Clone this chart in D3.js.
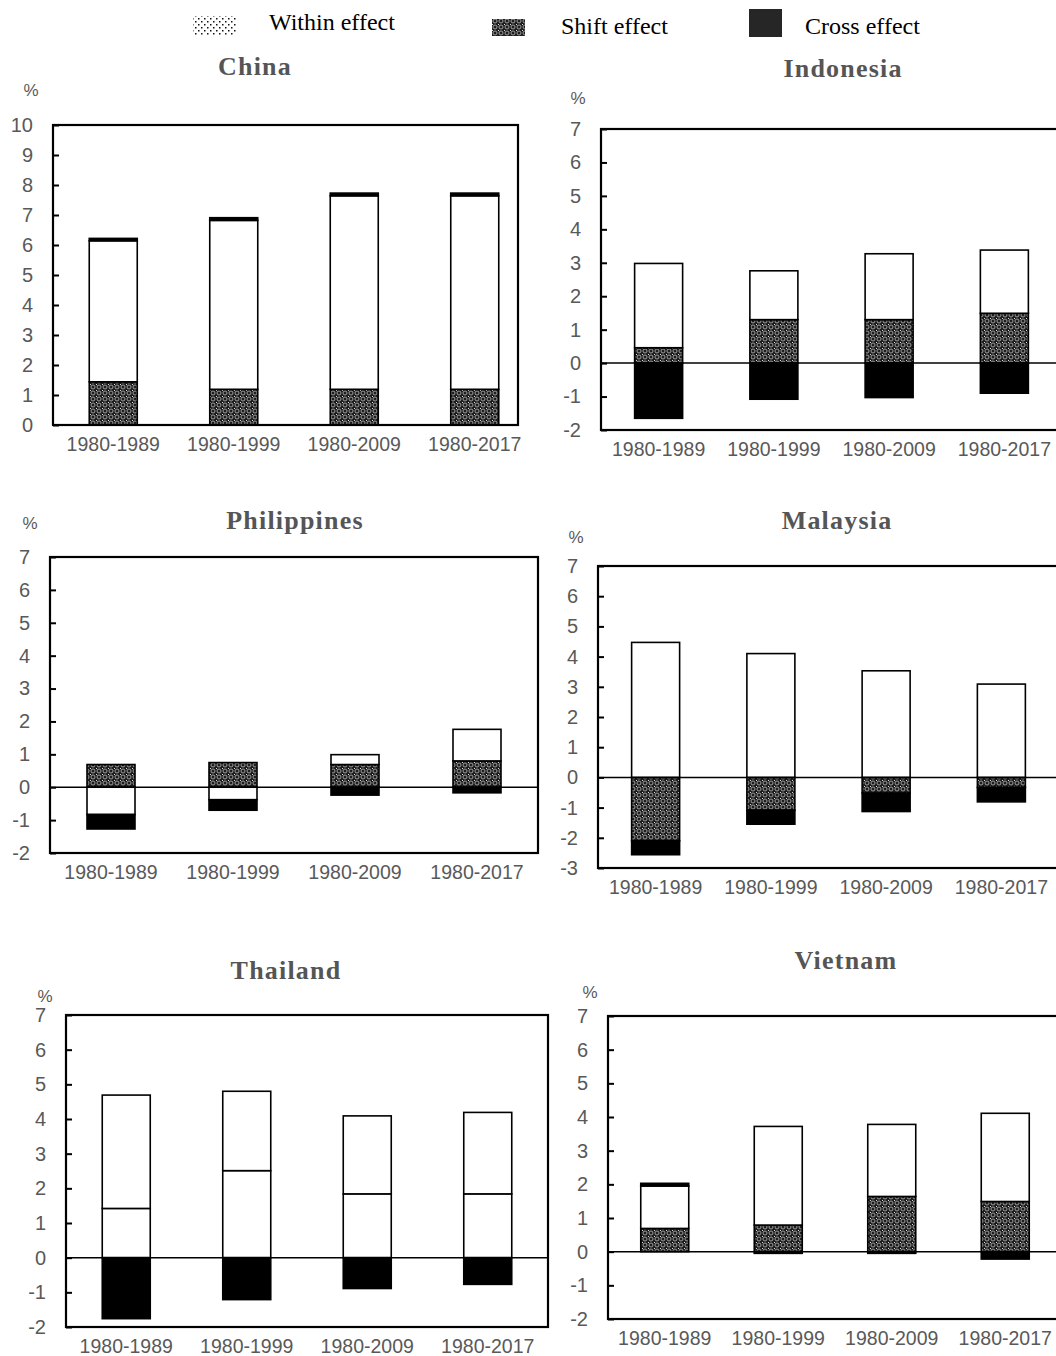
<!DOCTYPE html>
<html>
<head>
<meta charset="utf-8">
<script src="https://cdn.jsdelivr.net/npm/d3@7"></script>
<style>
  body { margin: 0; background: #fff; }
  svg { display: block; }
</style>
</head>
<body>
<svg id="chart" width="1056" height="1356"></svg>
<script>
// periods on the x axis
const periods = ["1980-1989", "1980-1999", "1980-2009", "1980-2017"];
const countries = ["China", "Indonesia", "Philippines", "Malaysia", "Thailand", "Vietnam"];

// effects per country (rows follow `countries`), in %
const shiftEffect = [
  [1.44, 1.19, 1.19, 1.19],
  [0.46, 1.30, 1.30, 1.49],
  [0.69, 0.75, 0.69, 0.80],
  [-2.10, -1.09, -0.52, -0.33],
  [1.42, 2.51, 1.84, 1.84],
  [0.69, 0.79, 1.64, 1.49]
];
const withinEffect = [
  [4.70, 5.63, 6.45, 6.45],
  [2.52, 1.46, 1.97, 1.89],
  [-0.83, -0.38, 0.30, 0.96],
  [4.47, 4.10, 3.53, 3.09],
  [3.27, 2.29, 2.25, 2.35],
  [1.26, 2.93, 2.14, 2.62]
];
const crossEffect = [
  [0.08, 0.09, 0.09, 0.09],
  [-1.65, -1.08, -1.03, -0.90],
  [-0.44, -0.32, -0.24, -0.17],
  [-0.46, -0.46, -0.61, -0.48],
  [-1.76, -1.21, -0.89, -0.77],
  [0.08, -0.05, -0.05, -0.22]
];
// y axis limits per country
const yMin = [0, -2, -2, -3, -2, -2];
const yMax = [10, 7, 7, 7, 7, 7];

const legendLabels = ["Within effect", "Shift effect", "Cross effect"];

// panel layout (pixels)
const panels = [
  { left: 53, right: 518, top: 125, bottom: 425, band: [53, 535], title: [255, 66], pct: [31, 90] },
  { left: 601, right: 1062, top: 129, bottom: 430, band: [601, 1062], title: [843, 68], pct: [578, 98] },
  { left: 50, right: 538, top: 557, bottom: 853, band: [50, 538], title: [295, 520], pct: [30, 523] },
  { left: 598, right: 1062, top: 566, bottom: 868, band: [598, 1059], title: [837, 520], pct: [576, 537] },
  { left: 66, right: 548, top: 1015, bottom: 1327, band: [66, 548], title: [286, 970], pct: [45, 996], plainShift: true },
  { left: 608, right: 1062, top: 1016, bottom: 1319, band: [608, 1062], title: [846, 960], pct: [590, 992] }
];

const svg = d3.select("#chart");
const defs = svg.append("defs");

// shift pattern: dark with light rings
const shiftPat = defs.append("pattern")
  .attr("id", "shiftPat").attr("patternUnits", "userSpaceOnUse")
  .attr("width", 6).attr("height", 6);
shiftPat.append("rect").attr("width", 6).attr("height", 6).attr("fill", "#1e1e1e");
shiftPat.append("circle").attr("cx", 3).attr("cy", 3).attr("r", 2)
  .attr("fill", "none").attr("stroke", "#a8a8a8").attr("stroke-width", 0.9);
shiftPat.append("rect").attr("x", 0).attr("y", 0).attr("width", 1).attr("height", 1).attr("fill", "#ddd");

// within pattern: sparse dots (legend)
const withinPat = defs.append("pattern")
  .attr("id", "withinPat").attr("patternUnits", "userSpaceOnUse")
  .attr("width", 6).attr("height", 6);
withinPat.append("rect").attr("width", 6).attr("height", 6).attr("fill", "#fff");
withinPat.append("rect").attr("x", 0).attr("y", 0).attr("width", 1.5).attr("height", 1.5).attr("fill", "#111");
withinPat.append("rect").attr("x", 3).attr("y", 3).attr("width", 1.5).attr("height", 1.5).attr("fill", "#111");

// legend
const legend = svg.append("g");
legend.append("rect").attr("x", 193).attr("y", 16).attr("width", 43).attr("height", 20).attr("fill", "url(#withinPat)");
legend.append("rect").attr("x", 492).attr("y", 19).attr("width", 33).attr("height", 17).attr("fill", "url(#shiftPat)");
legend.append("rect").attr("x", 749).attr("y", 9).attr("width", 33).attr("height", 28).attr("fill", "#262626");
legend.selectAll("text.lg")
  .data(legendLabels)
  .enter().append("text")
  .attr("class", "lg")
  .attr("x", (d, i) => [269, 561, 805][i])
  .attr("y", (d, i) => [30, 34, 34][i])
  .attr("font-family", "'Liberation Serif', 'Times New Roman', serif")
  .attr("font-size", 24)
  .attr("fill", "#000")
  .text(d => d);

const stack = d3.stack()
  .keys(["shift", "within", "cross"])
  .offset(d3.stackOffsetDiverging);

countries.forEach((name, ci) => {
  const p = panels[ci];
  const g = svg.append("g");

  const x = d3.scaleBand().domain(periods).range(p.band).paddingInner(0.6).paddingOuter(0.3);
  const y = d3.scaleLinear().domain([yMin[ci], yMax[ci]]).range([p.bottom, p.top]);

  const rows = periods.map((per, i) => ({
    period: per,
    shift: shiftEffect[ci][i],
    within: withinEffect[ci][i],
    cross: crossEffect[ci][i]
  }));
  const series = stack(rows);

  const fills = {
    shift: p.plainShift ? "#fff" : "url(#shiftPat)",
    within: "#fff",
    cross: "#000"
  };

  // bar width fixed at ~48px centred in band
  const bw = 48;
  series.forEach(s => {
    g.selectAll(null)
      .data(s)
      .enter().append("rect")
      .attr("x", d => x(d.data.period) + x.bandwidth() / 2 - bw / 2)
      .attr("width", bw)
      .attr("y", d => y(Math.max(d[0], d[1])))
      .attr("height", d => Math.abs(y(d[0]) - y(d[1])))
      .attr("fill", fills[s.key])
      .attr("stroke", "#000")
      .attr("stroke-width", 1.6);
  });

  // zero line
  if (yMin[ci] < 0) {
    g.append("line")
      .attr("x1", p.left).attr("x2", p.right)
      .attr("y1", y(0)).attr("y2", y(0))
      .attr("stroke", "#000").attr("stroke-width", 1.5);
  }

  // frame
  g.append("rect")
    .attr("x", p.left).attr("y", p.top)
    .attr("width", p.right - p.left).attr("height", p.bottom - p.top)
    .attr("fill", "none").attr("stroke", "#000").attr("stroke-width", 2.2);

  // y axis with inward ticks
  const yAxis = d3.axisLeft(y)
    .tickValues(d3.range(yMin[ci], yMax[ci] + 1))
    .tickSizeInner(-6).tickSizeOuter(0).tickPadding(20)
    .tickFormat(d => String(d));
  const ya = g.append("g").attr("transform", `translate(${p.left},0)`).call(yAxis);
  ya.select(".domain").remove();
  ya.selectAll(".tick line").attr("stroke", "#000").attr("stroke-width", 2);
  ya.selectAll(".tick text")
    .attr("font-family", "'Liberation Sans', Arial, sans-serif")
    .attr("font-size", 20)
    .attr("fill", "#595959");

  // x labels
  g.selectAll(null)
    .data(periods)
    .enter().append("text")
    .attr("x", d => x(d) + x.bandwidth() / 2)
    .attr("y", p.bottom + 26)
    .attr("text-anchor", "middle")
    .attr("font-family", "'Liberation Sans', Arial, sans-serif")
    .attr("font-size", 19.5)
    .attr("fill", "#595959")
    .text(d => d);

  // title
  g.append("text")
    .attr("x", p.title[0]).attr("y", p.title[1] + 9)
    .attr("text-anchor", "middle")
    .attr("font-family", "'Liberation Serif', 'Times New Roman', serif")
    .attr("font-weight", "bold")
    .attr("font-size", 26)
    .attr("letter-spacing", 1.2)
    .attr("fill", "#555")
    .text(name);

  // percent sign
  g.append("text")
    .attr("x", p.pct[0]).attr("y", p.pct[1] + 6)
    .attr("text-anchor", "middle")
    .attr("font-family", "'Liberation Sans', Arial, sans-serif")
    .attr("font-size", 17)
    .attr("fill", "#595959")
    .text("%");
});
</script>
</body>
</html>
